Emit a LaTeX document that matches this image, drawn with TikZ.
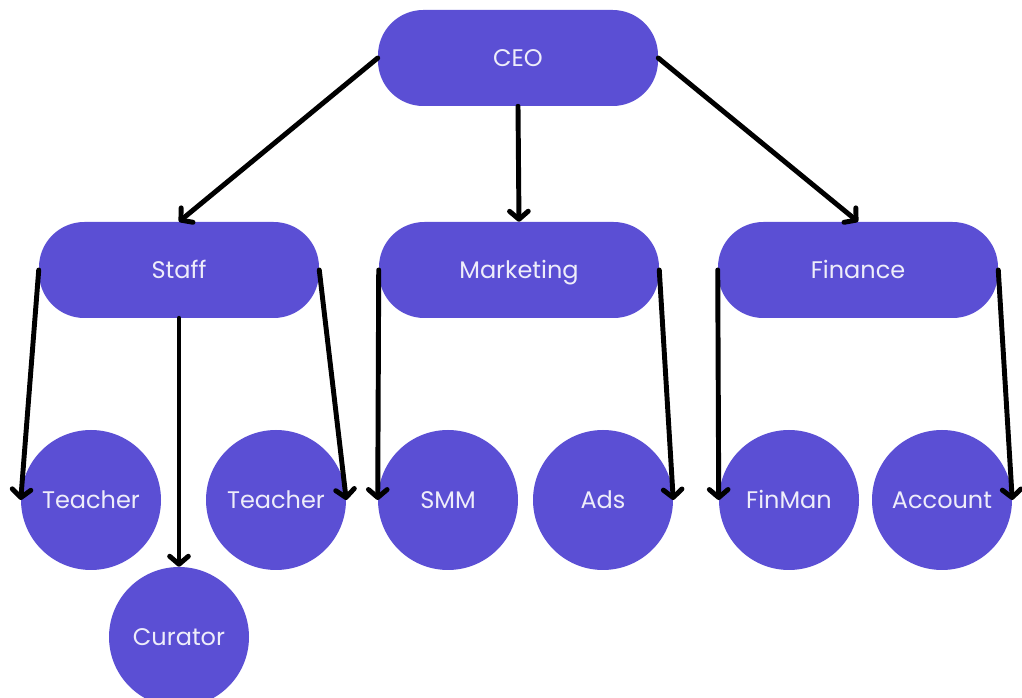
\documentclass[tikz,border=0pt]{standalone}
\usepackage{fontspec}
\setmainfont{Poppins}
\usetikzlibrary{arrows.meta}
\definecolor{boxfill}{HTML}{5B4FD4}
\definecolor{boxtext}{HTML}{EEEDFA}
\begin{document}
\begin{tikzpicture}[x=0.75pt,y=-0.75pt,
  unit/.style={fill=boxfill,text=boxtext,font=\fontsize{18}{20}\selectfont,inner sep=0pt,
    text height=12.5pt,text depth=0pt},
  dept/.style={unit,rectangle,rounded corners=34pt,minimum width=210pt,minimum height=72pt},
  role/.style={unit,circle,minimum size=105pt},
  link/.style={line width=3.7pt,line cap=round,line join=round,
    -{Straight Barb[length=6pt,width=14pt,line cap=round,line join=round]}}]
\useasboundingbox (0,0) rectangle (1022,698);
% departments
\node[dept] (ceo) at (518,58) {CEO};
\node[dept] (staff) at (179,270) {Staff};
\node[dept] (mkt) at (519,270) {Marketing};
\node[dept] (fin) at (858,270) {Finance};
% roles
\node[role] (t1) at (91,500) {Teacher};
\node[role] (t2) at (276,500) {Teacher};
\node[role] (cur) at (179,637) {Curator};
\node[role] (smm) at (448,500) {SMM};
\node[role] (ads) at (603,500) {Ads};
\node[role] (fm) at (789,500) {FinMan};
\node[role] (acc) at (942,500) {Account};
% reporting lines
\draw[link] (ceo.west) -- (staff.north);
\draw[link] (ceo.south) -- (mkt.north);
\draw[link] (ceo.east) -- (fin.north);
\draw[link] (staff.west) -- (t1.west);
\draw[link] (staff.east) -- (t2.east);
\draw[link] (staff.south) -- (cur.north);
\draw[link] (mkt.west) -- (smm.west);
\draw[link] (mkt.east) -- (ads.east);
\draw[link] (fin.west) -- (fm.west);
\draw[link] (fin.east) -- (acc.east);
\end{tikzpicture}
\end{document}
